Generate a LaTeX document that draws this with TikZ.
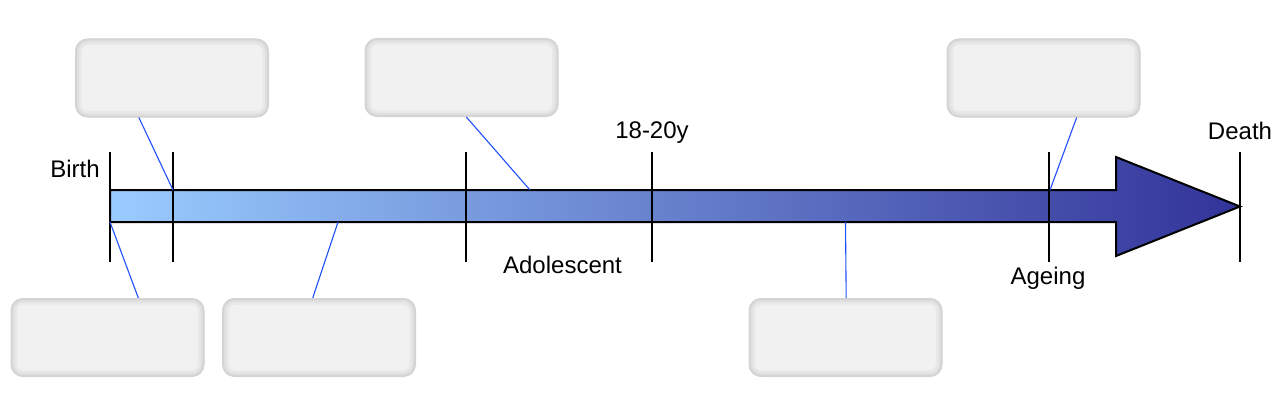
\documentclass[tikz,border=0pt]{standalone}
\usepackage{fontspec}
\setmainfont{Liberation Sans}
\usetikzlibrary{calc}
\definecolor{barlo}{HTML}{99CCFF}
\definecolor{barhi}{HTML}{333399}
\definecolor{lnk}{HTML}{1F4FFF}
\definecolor{boxfill}{HTML}{F1F1F1}
\definecolor{boxedge}{HTML}{D4D4D4}
\tikzset{
  glow/.style={rounded corners=12pt,line width=#1},
  box/.style={draw=boxedge,line width=1pt,fill=boxfill,rounded corners=12pt,minimum width=193pt,minimum height=78pt,
    path picture={
      \draw[glow=12pt,draw=boxfill!70!boxedge] (path picture bounding box.south west) rectangle (path picture bounding box.north east);
      \draw[glow=7pt,draw=boxfill!40!boxedge] (path picture bounding box.south west) rectangle (path picture bounding box.north east);
      \draw[glow=3pt,draw=boxedge] (path picture bounding box.south west) rectangle (path picture bounding box.north east);
    }},
  tick/.style={draw=black,line width=2pt},
  bar/.style={draw=black,line width=2pt,left color=barlo,right color=barhi},
  lnkline/.style={draw=lnk,line width=1.1pt},
  lbl/.style={font=\fontsize{24}{28}\selectfont,inner sep=0pt,anchor=base},
}
\begin{document}
\begin{tikzpicture}[x=1pt,y=-1pt]
\useasboundingbox (0,0) rectangle (1280,412);
\draw[bar] (110,190) -- (1116,190) -- (1116,157) -- (1240,206.5) -- (1116,256) -- (1116,222) -- (110,222) -- cycle;
\foreach \x in {110,173,466,652,1049,1240}
  \draw[tick] (\x,152) -- (\x,262);
\node[lbl] (birth) at (75,177) {Birth};
\node[lbl] (adult) at (652,138) {18-20y};
\node[lbl] (death) at (1240,139) {Death};
\node[lbl] (teen) at (562.5,273) {Adolescent};
\node[lbl] (age) at (1048,284) {Ageing};
\node[box] (b1) at (172,78) {};
\node[box] (b2) at (461.5,77.5) {};
\node[box] (b3) at (1043.5,78) {};
\node[box] (b4) at (107.5,337.5) {};
\node[box] (b5) at (319,337.5) {};
\node[box] (b6) at (845.5,337.5) {};
\coordinate (p1) at (173,190);
\coordinate (p2) at (530,190);
\coordinate (p3) at (1050,190);
\coordinate (p4) at (110,222);
\coordinate (p5) at (338,222);
\coordinate (p6) at (845.5,222);
\draw[lnkline] (b1.230) -- (p1);
\draw[lnkline] (b2.277) -- (p2);
\draw[lnkline] (b3.310) -- (p3);
\draw[lnkline] (b4.52) -- (p4);
\draw[lnkline] (b5.99) -- (p5);
\draw[lnkline] (b6.89.5) -- (p6);
\end{tikzpicture}
\end{document}
